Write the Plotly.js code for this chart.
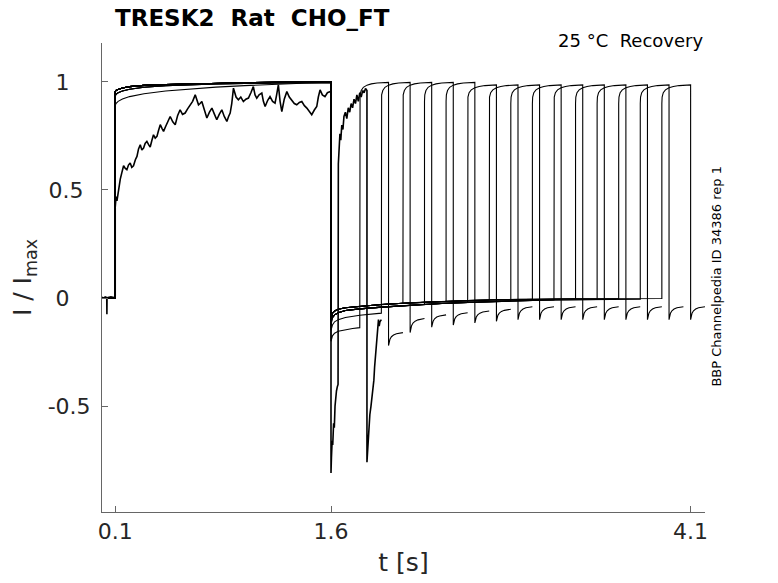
<!DOCTYPE html>
<html>
<head>
<meta charset="utf-8">
<script src="https://cdn.plot.ly/plotly-3.0.1.min.js"></script>
<style>
  html, body { margin:0; padding:0; background:#fff; }
  #myDiv { width:778px; height:583px; }
</style>
</head>
<body>
<div id="myDiv"></div>
<script>
/***
   recovery sweeps, values
***/
var xTicks = [0.1, 1.6, 4.1];
var xTickText = ['0.1', '1.6', '4.1'];
var yTicks = [-0.5, 0, 0.5, 1];
var yTickText = ['-0.5', '0\u2007\u2008', '0.5\u2008', '1\u2007\u2008'];

// test pulse onsets [s] of the 15 clean sweeps
var testOnsets = [1.8, 1.95, 2.1, 2.25, 2.4, 2.55, 2.7, 2.85, 3.0, 3.15, 3.3, 3.45, 3.6, 3.75, 3.9];

// prepulse (0.1 .. 1.6 s), three distinct curves of the bundle
var preTimes = [0.1, 0.105, 0.12, 0.15, 0.2, 0.3, 0.45, 0.6, 0.8, 1.0, 1.2, 1.4, 1.6];
var preTop = [0.955, 0.96, 0.965, 0.972, 0.978, 0.984, 0.988, 0.991, 0.994, 0.996, 0.998, 0.999, 1.0];
var preMid = [0.935, 0.942, 0.95, 0.958, 0.966, 0.975, 0.982, 0.986, 0.99, 0.993, 0.995, 0.997, 0.998];
var preLow = [0.89, 0.9, 0.91, 0.921, 0.932, 0.945, 0.958, 0.967, 0.976, 0.983, 0.989, 0.994, 0.997];
var preCurve = [2, 1, 1, 0, 1, 0, 0, 0, 0, 0, 0, 0, 0, 0, 0];

// tail at 1.6 s
var tailStart = [-0.2, -0.15, -0.13, -0.125, -0.12, -0.115, -0.11, -0.105, -0.1, -0.1, -0.095, -0.09, -0.09, -0.085, -0.08];

// gap currents (1.6 s .. onset)
var gapTimes0 = [1.61, 1.625, 1.65, 1.7, 1.75, 1.8];
var gapVals0 = [-0.175, -0.163, -0.154, -0.146, -0.141, -0.137];
var gapTimes1 = [1.61, 1.625, 1.65, 1.7, 1.8, 1.95];
var gapVals1 = [-0.125, -0.11, -0.1, -0.09, -0.08, -0.07];
var gapTimes = [1.61, 1.625, 1.65, 1.7, 1.8, 1.95, 2.1, 2.25, 2.4, 2.55, 2.7, 2.85, 3.0, 3.15, 3.3, 3.45, 3.6, 3.75, 3.9];
var gapUpper = [-0.07, -0.06, -0.052, -0.045, -0.038, -0.03, -0.024, -0.019, -0.015, -0.012, -0.009, -0.007, -0.005, -0.004, -0.003, -0.003, -0.002, -0.002, -0.002];
var gapLower = [-0.09, -0.078, -0.068, -0.058, -0.05, -0.042, -0.035, -0.029, -0.024, -0.02, -0.016, -0.013, -0.011, -0.009, -0.008, -0.007, -0.006, -0.005, -0.005];

// test pulse, offsets from onset [s]
var pulseOffsets = [0, 0.002, 0.01, 0.025, 0.05, 0.08, 0.12, 0.16, 0.2];
var pulseEarly = [0.91, 0.94, 0.96, 0.975, 0.985, 0.991, 0.995, 0.997, 0.998];
var pulseLate = [0.90, 0.93, 0.95, 0.963, 0.973, 0.979, 0.983, 0.985, 0.986];
var pulseCurve = [0, 0, 0, 0, 0, 1, 1, 1, 1, 1, 1, 1, 1, 1, 1];

// tail after the test pulse, offsets from its end [s]
var hookOffsets = [0, 0.003, 0.01, 0.02, 0.035, 0.055, 0.08, 0.1];
var hookVals = [
  [-0.22, -0.205, -0.19, -0.179, -0.171, -0.165, -0.162, -0.16],
  [-0.16, -0.144, -0.128, -0.116, -0.107, -0.101, -0.097, -0.095],
  [-0.135, -0.121, -0.107, -0.096, -0.088, -0.083, -0.08, -0.078],
  [-0.125, -0.111, -0.097, -0.086, -0.078, -0.073, -0.07, -0.068],
  [-0.115, -0.101, -0.088, -0.078, -0.07, -0.065, -0.062, -0.06],
  [-0.108, -0.094, -0.08, -0.07, -0.062, -0.057, -0.054, -0.052],
  [-0.10, -0.085, -0.07, -0.059, -0.051, -0.045, -0.042, -0.04],
  [-0.10, -0.085, -0.07, -0.059, -0.051, -0.045, -0.042, -0.04],
  [-0.10, -0.085, -0.07, -0.059, -0.051, -0.045, -0.042, -0.04],
  [-0.10, -0.085, -0.07, -0.059, -0.051, -0.045, -0.042, -0.04],
  [-0.10, -0.085, -0.07, -0.059, -0.051, -0.045, -0.042, -0.04],
  [-0.10, -0.085, -0.07, -0.059, -0.051, -0.045, -0.042, -0.04],
  [-0.10, -0.085, -0.07, -0.059, -0.051, -0.045, -0.042, -0.04],
  [-0.10, -0.085, -0.07, -0.059, -0.051, -0.045, -0.042, -0.04],
  [-0.10, -0.085, -0.07, -0.059, -0.051, -0.045, -0.042, -0.04]
];

// the noisy sweep (gap 0.05 s), read point by point
var noisyTimes = [0.008, 0.02, 0.03, 0.041, 0.042, 0.043, 0.05, 0.07, 0.09, 0.1,
  0.1, 0.106, 0.112, 0.123, 0.135, 0.146, 0.158, 0.17, 0.181, 0.192, 0.204, 0.215, 0.227, 0.24, 0.251,
  0.262, 0.274, 0.285, 0.297, 0.308, 0.32, 0.332, 0.343, 0.355, 0.366, 0.378, 0.39, 0.401, 0.413,
  0.425, 0.436, 0.448, 0.459, 0.47, 0.482, 0.5, 0.517, 0.534, 0.551, 0.568, 0.586, 0.603, 0.621,
  0.638, 0.656, 0.668, 0.679, 0.69, 0.702, 0.72, 0.737, 0.755, 0.772, 0.79, 0.806, 0.823, 0.841,
  0.858, 0.876, 0.888, 0.899, 0.91, 0.922, 0.94, 0.956, 0.973, 0.991, 1.008, 1.026, 1.043, 1.06,
  1.072, 1.084, 1.1, 1.119, 1.13, 1.142, 1.16, 1.176, 1.194, 1.211, 1.222, 1.234, 1.246, 1.258,
  1.275, 1.293, 1.31, 1.327, 1.345, 1.362, 1.38, 1.397, 1.415, 1.432, 1.45, 1.466, 1.484, 1.501,
  1.512, 1.524, 1.54, 1.558, 1.575, 1.593, 1.6,
  1.6, 1.603, 1.608, 1.612, 1.618, 1.623, 1.628, 1.633, 1.638, 1.644, 1.649,
  1.651, 1.656, 1.662, 1.668, 1.675, 1.683, 1.69, 1.7, 1.71, 1.72, 1.73, 1.74, 1.75, 1.76, 1.77,
  1.78, 1.79, 1.8, 1.81, 1.82, 1.83, 1.84, 1.85,
  1.85, 1.855, 1.86, 1.865, 1.87, 1.878, 1.885, 1.892, 1.898, 1.903, 1.908, 1.913, 1.918, 1.924,
  1.93, 1.935, 1.94, 1.95];
var noisyVals = [0.004, 0.0, 0.005, 0.002, -0.075, 0.0, 0.003, 0.006, 0.002, 0.004,
  0.42, 0.47, 0.45, 0.51, 0.55, 0.58, 0.612, 0.6, 0.594, 0.615, 0.625, 0.605, 0.612, 0.64, 0.655,
  0.69, 0.709, 0.685, 0.694, 0.715, 0.725, 0.71, 0.699, 0.73, 0.755, 0.74, 0.748, 0.775, 0.802,
  0.785, 0.771, 0.79, 0.809, 0.82, 0.84, 0.815, 0.802, 0.845, 0.871, 0.85, 0.856, 0.875, 0.894,
  0.91, 0.94, 0.91, 0.894, 0.9, 0.909, 0.87, 0.833, 0.86, 0.879, 0.85, 0.825, 0.85, 0.871,
  0.84, 0.817, 0.84, 0.856, 0.9, 0.971, 0.93, 0.917, 0.93, 0.909, 0.92, 0.925, 0.95, 0.978,
  0.94, 0.925, 0.94, 0.948, 0.91, 0.886, 0.915, 0.932, 0.91, 0.902, 0.94, 0.986, 0.91, 0.863,
  0.92, 0.955, 0.93, 0.917, 0.9, 0.894, 0.905, 0.909, 0.89, 0.879, 0.86, 0.848, 0.87, 0.886,
  0.93, 0.963, 0.94, 0.932, 0.95, 0.955, 0.95,
  -0.81, -0.74, -0.66, -0.68, -0.58, -0.6, -0.5, -0.44, -0.43, -0.41, -0.4,
  0.62, 0.70, 0.76, 0.73, 0.80, 0.78, 0.84, 0.86, 0.83, 0.88, 0.86, 0.90, 0.88, 0.92, 0.90,
  0.94, 0.91, 0.95, 0.93, 0.96, 0.95, 0.97, 0.96,
  -0.76, -0.70, -0.64, -0.58, -0.54, -0.5, -0.46, -0.43, -0.38, -0.32, -0.28, -0.2, -0.16, -0.12,
  -0.1, -0.13, -0.11, -0.1];

function buildSweep(k) {
  var onset = testOnsets[k];
  var pre = [preTop, preMid, preLow][preCurve[k]];
  var xs = [0.008, 0.1];
  var ys = [0, 0];
  for (var i = 0; i < preTimes.length; i++) { xs.push(preTimes[i]); ys.push(pre[i]); }

  xs.push(1.6); ys.push(tailStart[k]);
  var gt = gapTimes, gv = (k % 2 ? gapLower : gapUpper);
  if (k === 0) { gt = gapTimes0; gv = gapVals0; }
  if (k === 1) { gt = gapTimes1; gv = gapVals1; }
  for (i = 0; i < gt.length; i++) {
    if (gt[i] <= onset + 1e-9) { xs.push(gt[i]); ys.push(gv[i]); }
  }

  var pv = pulseCurve[k] ? pulseLate : pulseEarly;
  for (i = 0; i < pulseOffsets.length; i++) { xs.push(onset + pulseOffsets[i]); ys.push(pv[i]); }

  var tEnd = onset + pulseOffsets[pulseOffsets.length - 1];
  for (i = 0; i < hookOffsets.length; i++) { xs.push(tEnd + hookOffsets[i]); ys.push(hookVals[k][i]); }

  return { x: xs, y: ys, type: 'scatter', mode: 'lines', hoverinfo: 'skip',
           line: { color: '#000000', width: 1.1 } };
}

var data = [];
for (var k = 0; k < testOnsets.length; k++) data.push(buildSweep(k));
data.push({ x: noisyTimes, y: noisyVals, type: 'scatter', mode: 'lines', hoverinfo: 'skip',
            line: { color: '#000000', width: 1.6 } });

var axisStyle = {
  showline: true, linecolor: '#666666', linewidth: 1,
  ticks: 'inside', ticklen: 6, tickcolor: '#666666', tickwidth: 1,
  showgrid: false, zeroline: false,
  tickfont: { family: 'DejaVu Sans', size: 22, color: '#262626' }
};

var layout = {
  width: 778,
  height: 583,
  paper_bgcolor: '#ffffff',
  plot_bgcolor: '#ffffff',
  showlegend: false,
  margin: { l: 102, r: 73, t: 43, b: 71 },
  font: { family: 'DejaVu Sans', color: '#262626' },
  title: { text: '<b>TRESK2\u00a0 Rat\u00a0 CHO_FT</b>',
           font: { family: 'DejaVu Sans', size: 23, color: '#000000' },
           xref: 'container', x: 115 / 778, xanchor: 'left',
           yref: 'container', y: 1 - 18 / 583, yanchor: 'middle' },
  xaxis: Object.assign({}, axisStyle, {
    range: [0.008, 4.2],
    tickmode: 'array', tickvals: xTicks, ticktext: xTickText,
    title: { text: 't [s]', font: { family: 'DejaVu Sans', size: 25, color: '#262626' }, standoff: 10 }
  }),
  yaxis: Object.assign({}, axisStyle, {
    range: [-0.99, 1.18],
    tickmode: 'array', tickvals: yTicks, ticktext: yTickText,
    ticklabelstandoff: 6,
    title: { text: 'I / I<sub>max</sub>', font: { family: 'DejaVu Sans', size: 25, color: '#262626' }, standoff: 8 }
  }),
  annotations: [
    { text: '25 °C\u00a0 Recovery', showarrow: false, xref: 'paper', yref: 'paper',
      x: 1, xanchor: 'right', y: 1.005, yanchor: 'middle',
      font: { family: 'DejaVu Sans', size: 18, color: '#000000' } },
    { text: 'BBP Channelpedia ID 34386 rep 1', showarrow: false, xref: 'paper', yref: 'paper',
      x: 1.02, xanchor: 'center', y: 0.502, yanchor: 'middle', textangle: -90,
      font: { family: 'DejaVu Sans', size: 13, color: '#000000' } }
  ]
};

var config = { displayModeBar: false, staticPlot: true };

Plotly.newPlot('myDiv', data, layout, config);
</script>
</body>
</html>
